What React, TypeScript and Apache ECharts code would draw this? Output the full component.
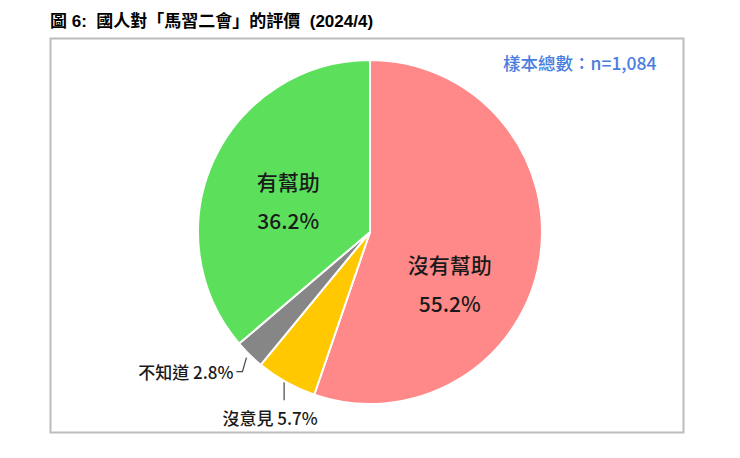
import React, { useEffect, useRef } from "react";
import * as echarts from "echarts";

const categories = ["沒有幫助", "沒意見", "不知道", "有幫助"];
const values = [55.2, 5.7, 2.8, 36.2];
const colors = ["#ff8888", "#ffc800", "#868686", "#5ce05c"];
const insideIdx = [0, 3];
const titleText = "圖 6:  國人對「馬習二會」的評價  (2024/4)";
const sampleText = "樣本總數：n=1,084";

const CJK = "'Noto Sans CJK TC', 'Noto Sans', sans-serif";
const TITLE_FONT = "'Liberation Sans', 'Noto Sans CJK TC', sans-serif";

export default function App() {
  const ref = useRef<HTMLDivElement>(null);
  useEffect(() => {
    document.body.style.margin = "0";
    const chart = echarts.init(ref.current!, null, { renderer: "svg" });
    const data = categories.map((name, i) => {
      const inside = insideIdx.includes(i);
      return {
        name,
        value: values[i],
        itemStyle: { color: colors[i] },
        label: inside
          ? {
              show: true,
              position: "inside",
              formatter: (p: any) => `{n|${p.name}}\n{p|${p.value}%}`,
              rich: {
                n: { fontSize: 21, fontWeight: 500, lineHeight: 39, color: "#1a1a1a", fontFamily: CJK },
                p: { fontSize: 21, fontWeight: 500, lineHeight: 39, color: "#1a1a1a", fontFamily: CJK },
              },
            }
          : {
              show: true,
              position: "outside",
              formatter: (p: any) => `${p.name} ${p.value}%`,
              fontSize: 17,
              fontWeight: 500,
              color: "#1a1a1a",
              fontFamily: CJK,
            },
        labelLine: inside
          ? { show: false }
          : { show: true, length: 12, length2: 6, lineStyle: { color: "#444", width: 1.2 } },
      };
    });
    chart.setOption({
      animation: false,
      backgroundColor: "#ffffff",
      graphic: [
        {
          type: "text",
          left: 50,
          top: 13,
          style: {
            text: titleText,
            font: `bold 17px ${TITLE_FONT}`,
            fill: "#000",
          },
        },
        {
          type: "rect",
          shape: { x: 50.5, y: 38.5, width: 633, height: 394 },
          style: { fill: "none", stroke: "#bcbcbc", lineWidth: 2 },
          z: -1,
        },
        {
          type: "text",
          left: 503,
          top: 54,
          style: {
            text: sampleText,
            font: `500 17.5px ${CJK}`,
            fill: "#4a7de0",
          },
        },
      ],
      series: [
        {
          type: "pie",
          center: [370, 232],
          radius: 172,
          startAngle: 90,
          clockwise: true,
          avoidLabelOverlap: false,
          itemStyle: { borderColor: "#ffffff", borderWidth: 2 },
          emphasis: { disabled: true },
          data,
          labelLayout: (params: any) => {
            const i = params.dataIndex;
            if (i === 0) return { dx: -8, dy: 37 };
            if (i === 3) return { dx: -1, dy: 6 };
            const pts = params.labelLinePoints;
            if (!pts) return {};
            const x0 = pts[0][0];
            const y0 = pts[0][1];
            if (i === 1) {
              return {
                x: x0 - 16,
                y: y0 + 35,
                align: "center",
                verticalAlign: "middle",
                labelLinePoints: [
                  [x0 - 2, y0],
                  [x0 - 2, y0 + 18],
                  [x0 - 2, y0 + 18],
                ],
              };
            }
            return {
              x: x0 - 16,
              y: y0 + 17,
              align: "right",
              verticalAlign: "middle",
              labelLinePoints: [
                [x0 - 3, y0 + 3],
                [x0 - 7, y0 + 17],
                [x0 - 13, y0 + 17],
              ],
            };
          },
        },
      ],
    });
    return () => chart.dispose();
  }, []);
  return <div ref={ref} style={{ width: 740, height: 458 }} />;
}
